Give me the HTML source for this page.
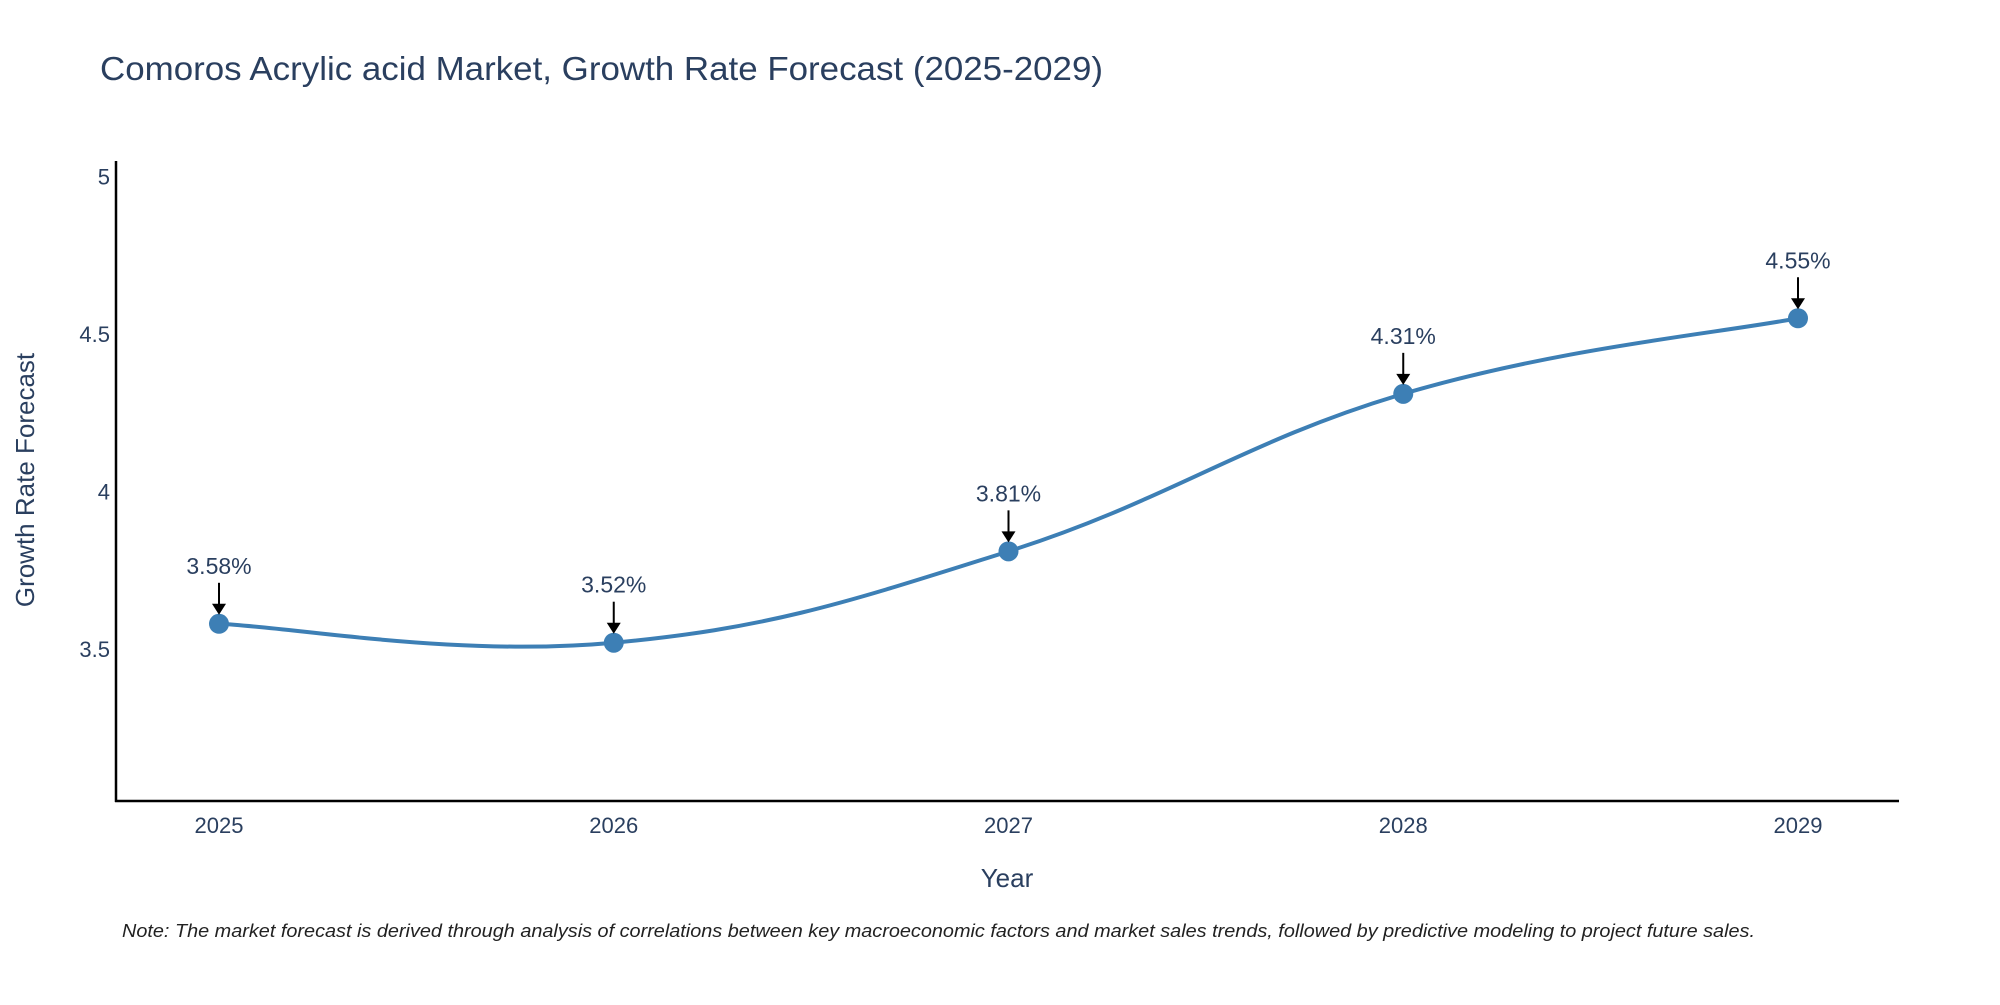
<!DOCTYPE html>
<html><head><meta charset="utf-8"><style>
body{margin:0;background:#fff;}
svg text{font-family:"Liberation Sans",sans-serif;}
</style></head><body>
<svg id="chart" width="2000" height="1000" viewBox="0 0 2000 1000" xmlns="http://www.w3.org/2000/svg">
<text x="100" y="80" font-size="33" fill="#2a3f5f" textLength="1003" lengthAdjust="spacingAndGlyphs">Comoros Acrylic acid Market, Growth Rate Forecast (2025-2029)</text>
<g id="yticks"></g>
<g id="xticks"></g>
<line x1="116" y1="161" x2="116" y2="802" stroke="#000" stroke-width="2.5"/>
<line x1="115" y1="801" x2="1899" y2="801" stroke="#000" stroke-width="2.5"/>
<g id="series"></g>
<g id="annots"></g>
<text x="1007" y="887" font-size="26" fill="#2a3f5f" text-anchor="middle">Year</text>
<text transform="translate(34,480) rotate(-90)" font-size="26" fill="#2a3f5f" text-anchor="middle">Growth Rate Forecast</text>
<text x="122" y="937" font-size="18" font-style="italic" fill="#222" textLength="1633" lengthAdjust="spacingAndGlyphs">Note: The market forecast is derived through analysis of correlations between key macroeconomic factors and market sales trends, followed by predictive modeling to project future sales.</text>
</svg>
<script>
const years = [2025, 2026, 2027, 2028, 2029];
const growth = [3.58, 3.52, 3.81, 4.31, 4.55];
const labels = ["3.58%", "3.52%", "3.81%", "4.31%", "4.55%"];
const yTickValues = [3.5, 4, 4.5, 5];
const yTickLabels = ["3.5", "4", "4.5", "5"];

const NS = "http://www.w3.org/2000/svg";
function xS(v){ return 219 + (v - 2025) * 394.75; }
function yS(v){ return 649 - (v - 3.5) * 315; }
function mk(tag, attrs, parent){
  const e = document.createElementNS(NS, tag);
  for (const k in attrs) e.setAttribute(k, attrs[k]);
  parent.appendChild(e); return e;
}
const yt = document.getElementById('yticks');
yTickValues.forEach((v,i)=>{
  const t = mk('text', {x:110, y:yS(v)+8, 'font-size':22, fill:'#2a3f5f', 'text-anchor':'end'}, yt);
  
  
  t.textContent = yTickLabels[i];
});
const xt = document.getElementById('xticks');
years.forEach(y=>{
  const t = mk('text', {x:xS(y), y:833, 'font-size':22, fill:'#2a3f5f', 'text-anchor':'middle'}, xt);
  
  
  t.textContent = String(y);
});
const pts = years.map((y,i)=>[xS(y), yS(growth[i])]);
let d = `M${pts[0][0]},${pts[0][1]}`;
const k = 0.2;
for (let i=0;i<pts.length-1;i++){
  const p0 = pts[Math.max(i-1,0)], p1 = pts[i], p2 = pts[i+1], p3 = pts[Math.min(i+2,pts.length-1)];
  const c1 = [p1[0]+(p2[0]-p0[0])*k, p1[1]+(p2[1]-p0[1])*k];
  const c2 = [p2[0]-(p3[0]-p1[0])*k, p2[1]-(p3[1]-p1[1])*k];
  d += ` C${c1[0]},${c1[1]} ${c2[0]},${c2[1]} ${p2[0]},${p2[1]}`;
}
const s = document.getElementById('series');
const line = mk('path', {d:d, fill:'none', stroke:'#3d7fb5', 'stroke-width':4}, s);


const an = document.getElementById('annots');
pts.forEach((p,i)=>{
  const c = mk('circle', {cx:p[0], cy:p[1], r:10, fill:'#3d7fb5'}, s);
  
  
  const l = mk('line', {x1:p[0], y1:p[1]-41, x2:p[0], y2:p[1]-18, stroke:'#000', 'stroke-width':2}, an);
  
  
  const h = mk('polygon', {points:`${p[0]-7},${p[1]-20} ${p[0]+7},${p[1]-20} ${p[0]},${p[1]-9}`, fill:'#000'}, an);
  
  
  const t = mk('text', {x:p[0], y:p[1]-50, 'font-size':23, fill:'#2a3f5f', 'text-anchor':'middle'}, an);
  
  
  t.textContent = labels[i];
});
</script>
</body></html>
